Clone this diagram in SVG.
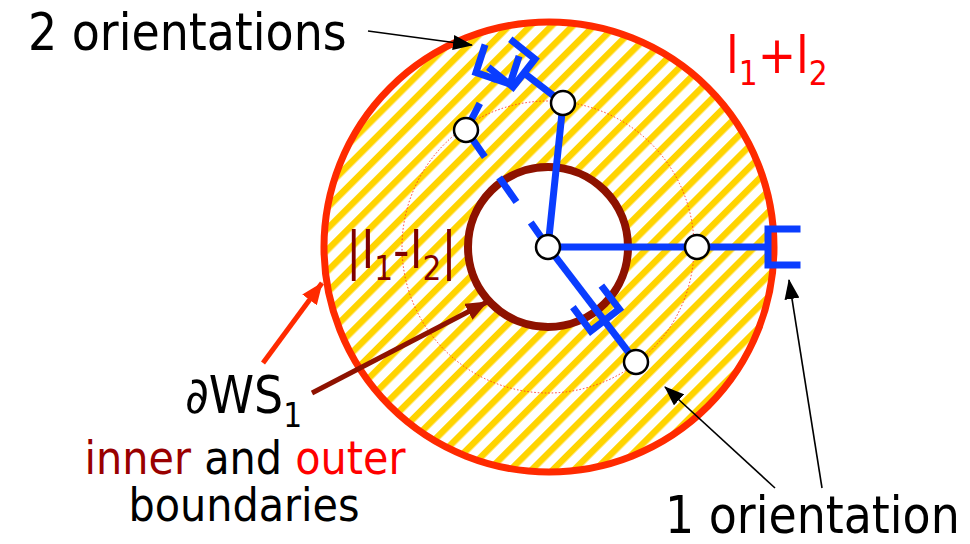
<svg xmlns="http://www.w3.org/2000/svg" width="970" height="544" viewBox="0 0 970 544">
<style>
.lbl{font-family:"DejaVu Sans Condensed","DejaVu Sans",sans-serif;font-size:51px;}
.sub{font-size:33px;}
.sm{font-size:46px;}
.link{stroke:#0A3DFF;stroke-width:7;fill:none;stroke-linecap:butt;stroke-linejoin:miter;}
.grip{stroke:#0A3DFF;stroke-width:7;fill:none;stroke-linecap:square;stroke-linejoin:miter;}
.dash{stroke-dasharray:30 25;}
.joint{fill:#fff;stroke:#000;stroke-width:2.5;}
.blk{stroke:#000;stroke-width:1.6;fill:none;}
</style>
<defs>
<pattern id="hatch" width="15" height="15" patternUnits="userSpaceOnUse" patternTransform="rotate(45)">
<rect width="15" height="15" fill="#fff"/>
<rect width="6.5" height="15" fill="#FFD400"/>
</pattern>
<marker id="ahBlk" markerWidth="20" markerHeight="15" refX="19" refY="7.5" orient="auto" markerUnits="userSpaceOnUse">
<path d="M0,0 L20,7.5 L0,15 Z" fill="#000"/>
</marker>
<marker id="ahRed" markerWidth="22" markerHeight="18" refX="21" refY="9" orient="auto" markerUnits="userSpaceOnUse">
<path d="M0,0 L22,9 L0,18 Z" fill="#FF2A00"/>
</marker>
<marker id="ahDark" markerWidth="22" markerHeight="18" refX="21" refY="9" orient="auto" markerUnits="userSpaceOnUse">
<path d="M0,0 L22,9 L0,18 Z" fill="#8E1200"/>
</marker>
</defs>
<rect width="970" height="544" fill="#fff"/>

<g id="workspace">
<path d="M324 247 a225 225 0 1 0 450 0 a225 225 0 1 0 -450 0 Z M468 247 a80 80 0 1 0 160 0 a80 80 0 1 0 -160 0 Z" fill="url(#hatch)" fill-rule="evenodd"/>
<circle cx="548" cy="247" r="146" fill="none" stroke="#FF3A2A" stroke-width="1" stroke-dasharray="1.5 2"/>
<circle cx="549" cy="247" r="225" fill="none" stroke="#FF2A00" stroke-width="7"/>
<circle cx="548" cy="247" r="80" fill="none" stroke="#8E1200" stroke-width="8"/>
</g>

<g id="arm-right">
<polyline class="link" points="548,247 697,247 768,247"/>
<polyline class="grip" points="797,229 768,229 768,265 797,265"/>
<circle class="joint" cx="697" cy="247" r="12"/>
</g>

<g id="arm-bottom">
<line class="link" x1="548" y1="247" x2="636" y2="362"/>
<polyline class="grip" points="575,310 590.7,331 619.3,309 603.5,288.5"/>
<circle class="joint" cx="636" cy="362" r="12"/>
</g>

<g id="arm-top-solid">
<polyline class="link" points="548,247 563,103 524,73"/>
<polyline class="grip" points="513,41.5 535,59 513,87 491,69.5"/>
<circle class="joint" cx="563" cy="103" r="12"/>
</g>

<g id="arm-top-dashed">
<line class="link dash" x1="548" y1="247" x2="466" y2="130"/>
<line class="link dash" x1="466" y1="130" x2="493" y2="78"/>
<polyline class="grip" points="484,48 476,72.5 510,84 518,59.5"/>
<circle class="joint" cx="466" cy="130" r="12"/>
</g>

<g id="base">
<circle class="joint" cx="548" cy="247" r="12"/>
</g>

<g id="connectors">
<line class="blk" x1="368" y1="31" x2="472" y2="45" marker-end="url(#ahBlk)"/>
<line class="blk" x1="775" y1="488" x2="665" y2="387" marker-end="url(#ahBlk)"/>
<line class="blk" x1="822" y1="488" x2="789" y2="280" marker-end="url(#ahBlk)"/>
<line x1="263" y1="363" x2="322" y2="283" stroke="#FF2A00" stroke-width="5" marker-end="url(#ahRed)"/>
<line x1="312" y1="393" x2="487" y2="302" stroke="#8E1200" stroke-width="5" marker-end="url(#ahDark)"/>
</g>

<g id="labels">
<text class="lbl" x="28" y="50" fill="#000">2 orientations</text>
<text class="lbl" x="726" y="73" fill="#FF0000">l<tspan class="sub" dy="12">1</tspan><tspan dy="-12">+l</tspan><tspan class="sub" dy="12">2</tspan></text>
<text class="lbl" x="346" y="268" fill="#7F0000" font-size="53">|l<tspan class="sub" dy="12">1</tspan><tspan dy="-12">-l</tspan><tspan class="sub" dy="12">2</tspan><tspan dy="-12">|</tspan></text>
<text class="lbl" x="185" y="413" fill="#000">∂WS<tspan class="sub" dy="14">1</tspan></text>
<text class="lbl sm" x="245" y="474" text-anchor="middle"><tspan fill="#990000">inner</tspan><tspan fill="#000"> and </tspan><tspan fill="#FF0000">outer</tspan></text>
<text class="lbl sm" x="244" y="521" text-anchor="middle" fill="#000">boundaries</text>
<text class="lbl" x="665" y="533" fill="#000">1 orientation</text>
</g>
</svg>
